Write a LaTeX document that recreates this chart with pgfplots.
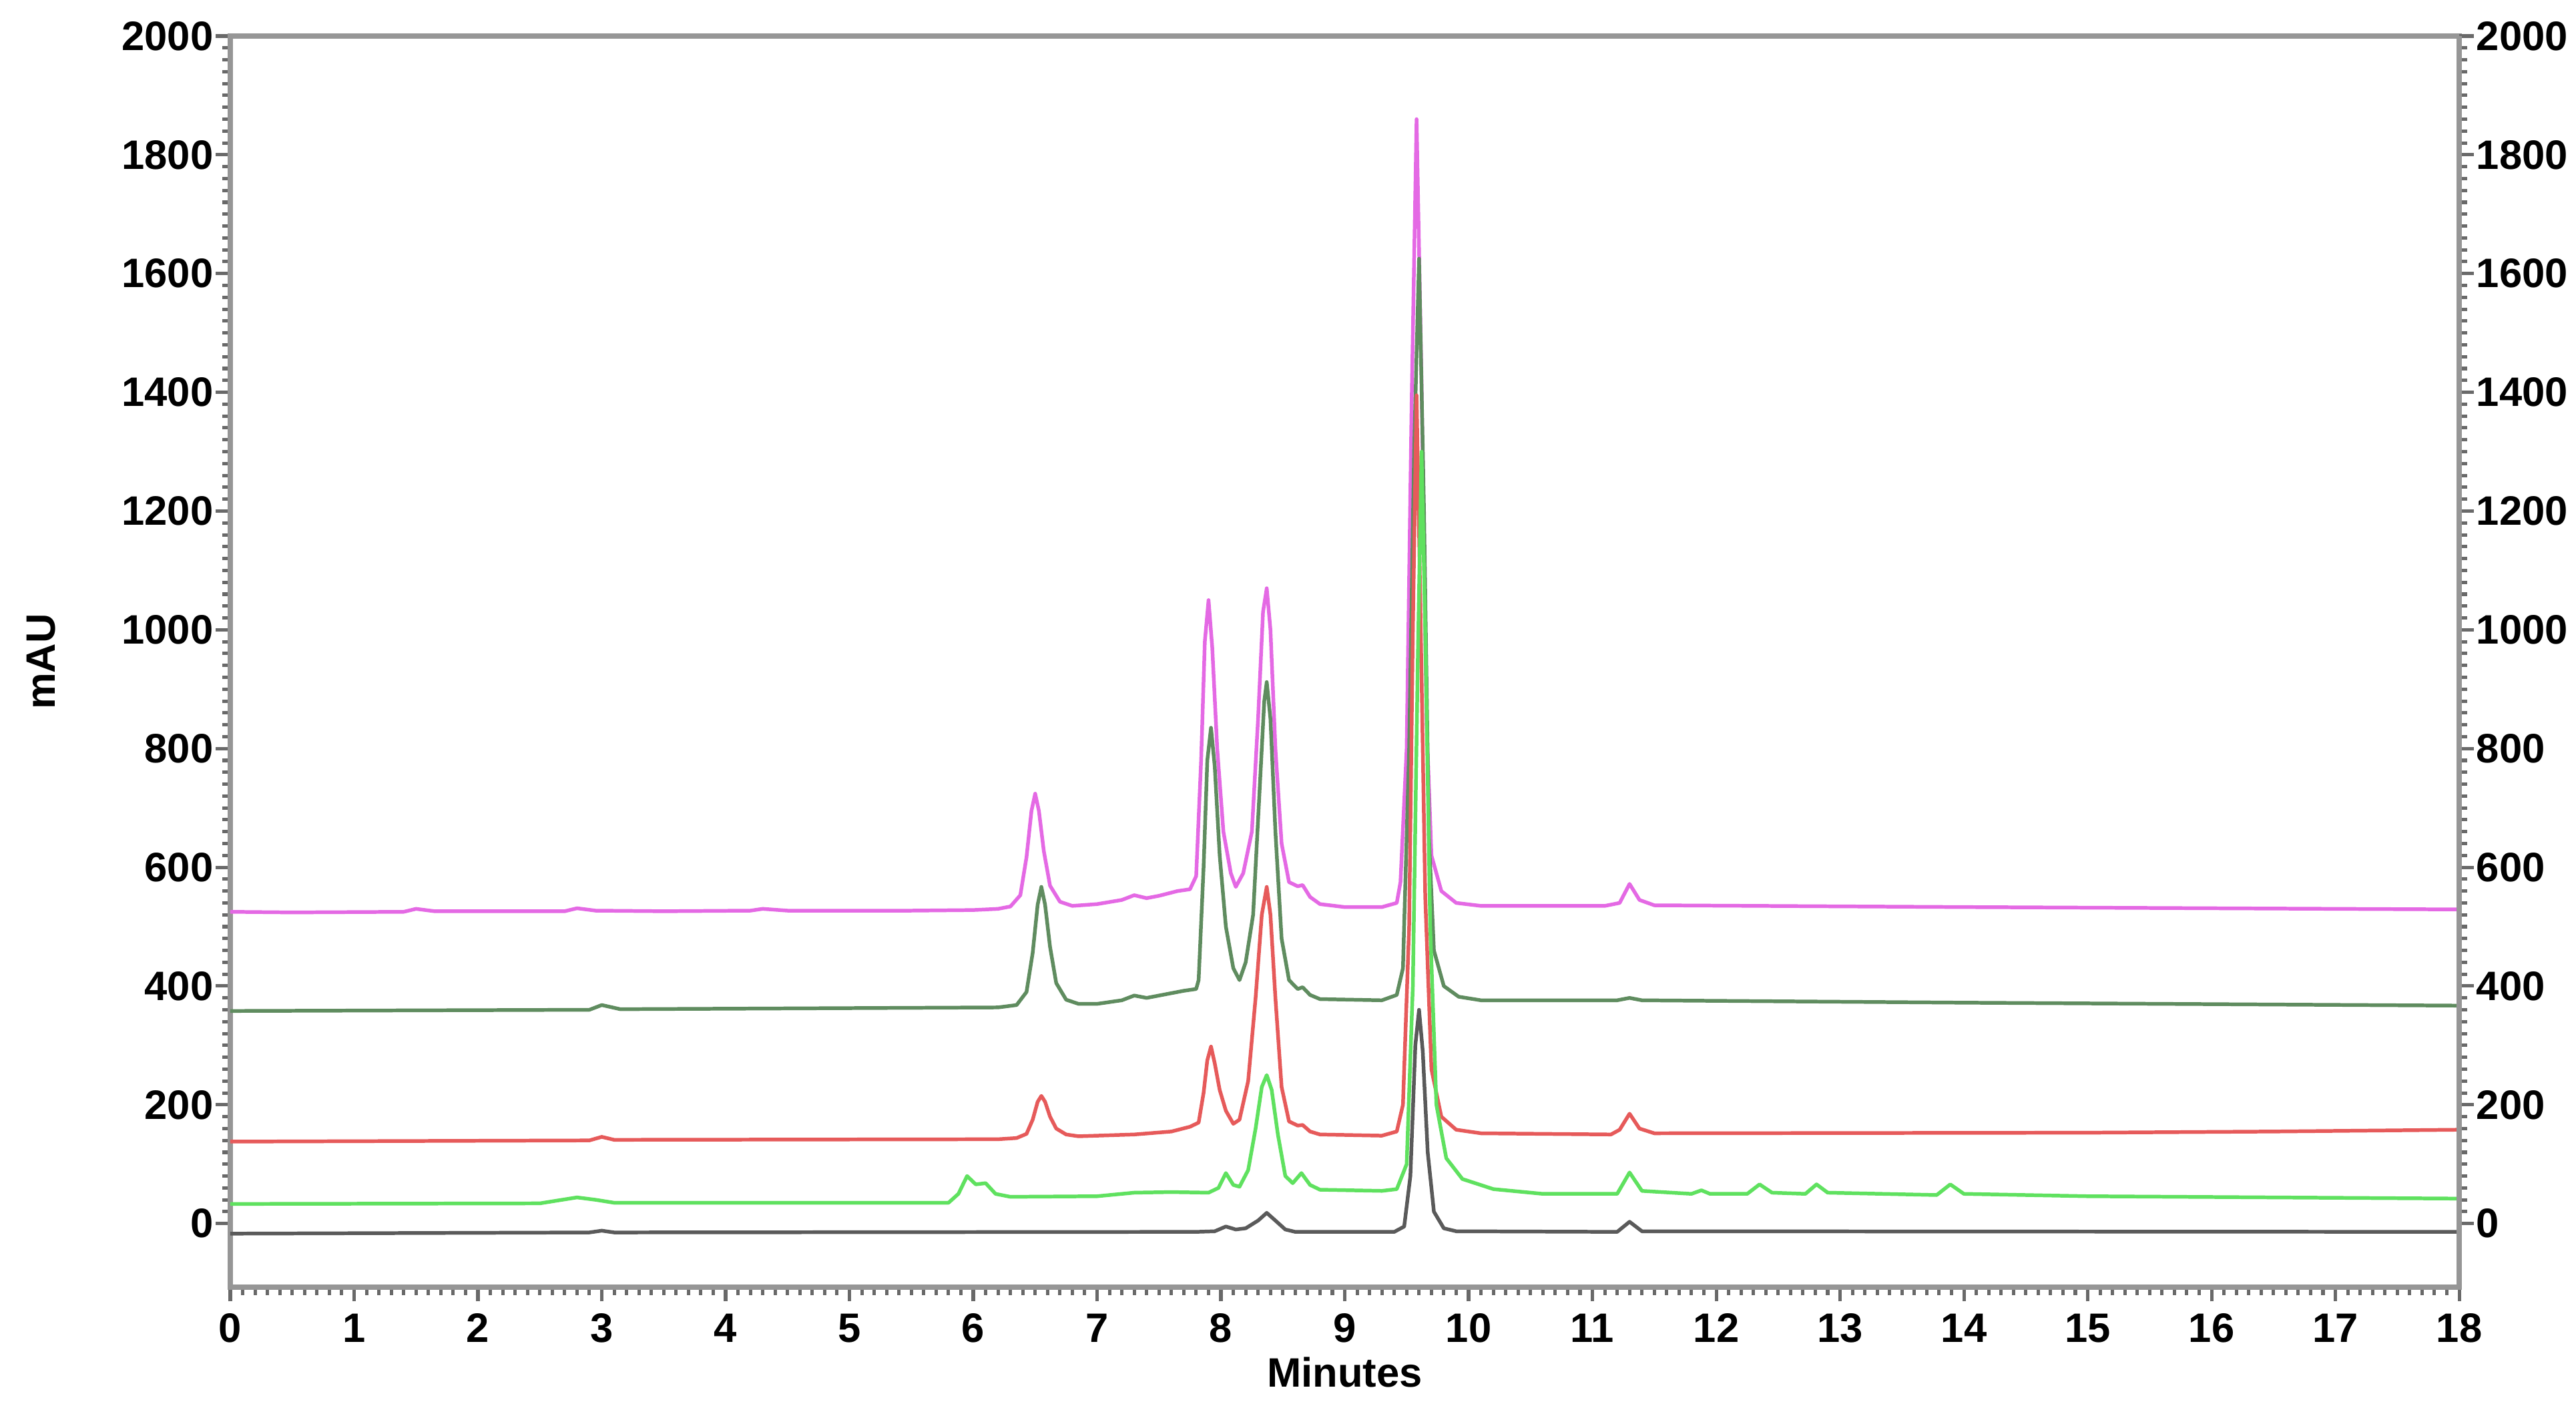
\documentclass[border=0pt]{standalone}
\usepackage{pgfplots}
\pgfplotsset{compat=1.18}
\usepackage{fontspec}
\setmainfont{Liberation Sans}
\definecolor{cmag}{RGB}{228,105,228}
\definecolor{cdg}{RGB}{95,140,95}
\definecolor{cred}{RGB}{230,90,90}
\definecolor{clg}{RGB}{95,225,95}
\definecolor{cblk}{RGB}{90,90,90}
\definecolor{axgray}{RGB}{150,150,150}
\newcommand{\lblfont}{\bfseries\fontsize{7.3}{8.5}\selectfont}
\begin{document}
\begin{tikzpicture}
\pgfplotsset{
  common/.style={
    scale only axis, width=13.913cm, height=7.808cm,
    xmin=0, xmax=18, ymin=-107, ymax=2000,
    ytick={0,200,...,2000}, minor y tick num=9,
    tick align=outside,
    major tick length=0.09cm, minor tick length=0.05cm,
    every tick/.style={axgray!70!black, line width=0.6pt},
    axis line style={axgray, line width=1pt},
    ticklabel style={font=\lblfont},
    yticklabel style={inner sep=0pt, xshift=0pt},
    /pgf/number format/assume math mode=true,
    /pgf/number format/1000 sep={},
    y tick label style={/pgf/number format/fixed},
  }
}
\begin{axis}[common,
  xtick={0,1,...,18}, minor x tick num=9,
  xtick pos=bottom, ytick pos=left,
  xticklabel style={inner sep=0pt, yshift=-0.07cm},
  yticklabel style={xshift=-0.01cm},
  xlabel={\lblfont Minutes}, ylabel={\lblfont mAU},
  xlabel style={at={(axis description cs:0.5,-0.068)}, anchor=center},
  ylabel style={at={(axis description cs:-0.0848,0.5)}, anchor=center},
  every axis plot/.append style={line width=0.65pt, line join=round},
  clip=true,
]
% magenta
\addplot[cmag] coordinates {
(0,525) (0.5,524) (1.4,525) (1.5,530) (1.65,526) (2.7,526) (2.8,531) (2.95,527) (3.5,526)
(4.2,527) (4.3,530) (4.5,527) (5.5,527) (6.0,528) (6.2,530)
(6.30,534) (6.38,553) (6.43,617) (6.47,695) (6.50,724) (6.53,695) (6.57,627) (6.62,569) (6.70,542)
(6.80,535) (7.0,538) (7.2,545) (7.3,553) (7.4,548) (7.5,552) (7.65,560) (7.75,563)
(7.80,585) (7.84,780) (7.87,980) (7.90,1050) (7.93,970) (7.97,800) (8.02,660) (8.08,590) (8.12,567)
(8.18,590) (8.25,660) (8.30,850) (8.34,1030) (8.37,1070) (8.40,1000) (8.44,800) (8.49,640) (8.55,575)
(8.62,568) (8.66,570) (8.72,550) (8.80,538) (9.0,533) (9.3,533) (9.42,540)
(9.45,575) (9.50,800) (9.54,1380) (9.58,1860) (9.62,1420) (9.66,850) (9.70,620) (9.78,560) (9.90,540)
(10.1,535) (11.1,535) (11.22,540) (11.30,572) (11.38,545) (11.5,536) (14,533) (18,529)
};
% dark green
\addplot[cdg] coordinates {
(0,358) (2.9,360) (3.0,368) (3.15,361) (6.2,364)
(6.35,368) (6.43,390) (6.48,456) (6.52,537) (6.55,567) (6.58,537) (6.62,466) (6.67,405) (6.75,377)
(6.85,370) (7.0,370) (7.2,376) (7.3,384) (7.4,380) (7.55,386) (7.7,392) (7.8,395)
(7.82,410) (7.86,600) (7.89,780) (7.92,835) (7.95,770) (7.99,620) (8.04,500) (8.10,430) (8.15,410)
(8.20,440) (8.26,520) (8.31,720) (8.35,880) (8.37,912) (8.40,850) (8.44,660) (8.49,480) (8.55,410)
(8.62,395) (8.66,398) (8.72,385) (8.80,378) (9.3,376) (9.42,385)
(9.47,430) (9.52,800) (9.56,1300) (9.60,1625) (9.64,1200) (9.68,650) (9.72,460) (9.80,400) (9.92,382)
(10.1,376) (11.2,376) (11.3,380) (11.4,376) (14,372) (18,367)
};
% red
\addplot[cred] coordinates {
(0,138) (2.9,140) (3.0,146) (3.1,141) (6.2,142)
(6.35,144) (6.43,151) (6.48,175) (6.52,205) (6.55,215) (6.58,205) (6.62,180) (6.67,160) (6.75,150)
(6.85,147) (7.3,150) (7.6,155) (7.75,163) (7.82,170)
(7.86,220) (7.89,275) (7.92,298) (7.95,270) (7.99,225) (8.04,190) (8.10,168)
(8.15,175) (8.22,240) (8.28,380) (8.33,520) (8.37,567) (8.40,520) (8.44,380) (8.49,230) (8.55,172)
(8.62,165) (8.66,166) (8.72,155) (8.80,150) (9.3,148) (9.42,155)
(9.47,200) (9.52,500) (9.55,1000) (9.58,1395) (9.61,1050) (9.65,550) (9.70,260) (9.78,180) (9.90,158)
(10.1,152) (11.15,150) (11.22,158) (11.30,185) (11.38,160) (11.5,152) (15,153) (16.5,155) (18,158)
};
% light green
\addplot[clg] coordinates {
(0,33) (2.5,34) (2.8,44) (2.95,40) (3.1,35) (5.8,35)
(5.88,50) (5.95,80) (6.02,66) (6.1,68) (6.18,50) (6.3,45) (7.0,46) (7.3,52) (7.6,53) (7.9,52)
(7.98,60) (8.04,85) (8.10,65) (8.15,62) (8.22,90) (8.28,160) (8.33,230) (8.37,250) (8.41,225)
(8.46,150) (8.52,80) (8.58,68) (8.65,85) (8.72,65) (8.80,57) (9.3,55) (9.42,58)
(9.50,100) (9.55,400) (9.59,950) (9.62,1300) (9.65,1000) (9.69,500) (9.74,200) (9.82,110) (9.95,75)
(10.2,58) (10.6,50) (11.2,50) (11.3,86) (11.4,55) (11.8,50) (11.88,56) (11.95,50) (12.25,50)
(12.35,66) (12.45,52) (12.72,50) (12.81,66) (12.9,52) (13.78,48) (13.89,66) (14.0,50) (15,46) (18,42)
};
% black
\addplot[cblk] coordinates {
(0,-17) (2.9,-15) (3.0,-12) (3.1,-15) (7.8,-14) (7.95,-13) (8.04,-5) (8.12,-10) (8.2,-8)
(8.3,5) (8.37,18) (8.44,5) (8.52,-10) (8.6,-14) (9.4,-14)
(9.48,-5) (9.53,80) (9.57,300) (9.60,360) (9.63,290) (9.67,120) (9.72,20) (9.8,-8) (9.9,-13)
(11.2,-14) (11.3,3) (11.4,-13) (18,-14)
};
\end{axis}
\begin{axis}[common,
  axis x line=none, axis y line*=right,
  yticklabel pos=right, ytick pos=right,
  yticklabel style={xshift=0.01cm},
]
\end{axis}
\pgfresetboundingbox
\path[use as bounding box] (-1.4375cm,-0.742cm) rectangle (14.642cm,8.033cm);
\end{tikzpicture}
\end{document}
